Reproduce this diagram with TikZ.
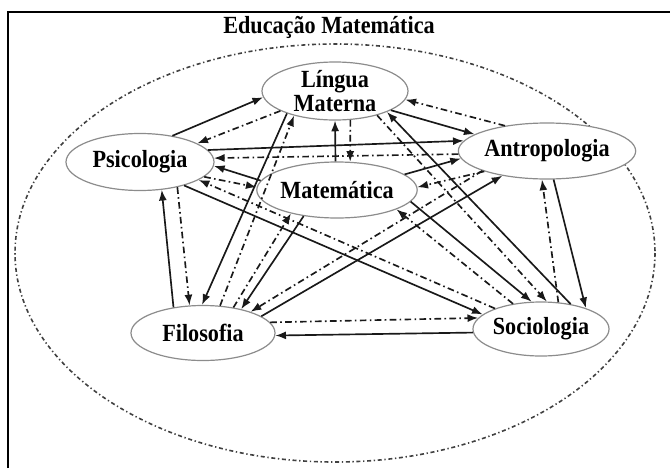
\documentclass[tikz,border=0pt]{standalone}
\usepackage{fontspec}
\setmainfont{Liberation Serif}[FakeStretch=0.9]
\usetikzlibrary{shapes.geometric,arrows.meta}
\begin{document}
\begin{tikzpicture}[x=0.75pt,y=-0.75pt,
  every node/.style={font=\bfseries\fontsize{18.5}{17.5}\selectfont},
  area/.style={ellipse,draw=black!45,line width=0.9pt,inner sep=0pt,align=center,fill=white},
  sol/.style={line width=1.25pt,draw=black!90,-{Latex[length=8pt,width=6pt]}},
  dd/.style={line width=1.25pt,draw=black!90,dash pattern=on 5pt off 2.5pt on 1.2pt off 2.5pt,-{Latex[length=8pt,width=6pt]}},
  bigring/.style={line width=1.2pt,draw=black!75,dash pattern=on 3pt off 2pt on 1pt off 2pt}]
\useasboundingbox (0,0) rectangle (670,468);
\draw[line width=1.6pt] (8,468) -- (8,12) -- (670,12);
\node (title) at (329,27) {Educação Matemática};
\draw[bigring] (335,253) ellipse [x radius=320, y radius=209];

\node[area,minimum width=109.5pt,minimum height=43.5pt] (L) at (335,91) {Língua\\Materna};
\node[area,minimum width=111pt,minimum height=42.75pt] (P) at (140,162) {Psicologia};
\node[area,minimum width=105pt,minimum height=42pt] (M) at (337,190) {Matemática};
\node[area,minimum width=105pt,minimum height=42pt] (A) at (547,151) {Antropologia};
\node[area,minimum width=108pt,minimum height=41.25pt] (F) at (203,333) {Filosofia};
\node[area,minimum width=100.5pt,minimum height=40.5pt] (S) at (541,329) {Sociologia};

% P - L
\draw[sol] (P.39) -- (L.185);
\draw[dd] (L.200) -- (P.18);
% L - A
\draw[sol] (L.-19) -- (A.167);
\draw[dd] (A.149) -- (L.-7);
% M - L
\draw[sol] (M.93) -- (L.-90);
\draw[dd] (L.-62) -- (M.65);
% P - A
\draw[sol] (P.10) -- (A.173);
\draw[dd] (A.182) -- (P.3);
% M - P
\draw[sol] (M.173) -- (P.-3);
\draw[dd] (P.-13) -- (M.178);
% F - P
\draw[sol] (F.139) -- (P.-52);
\draw[dd] (P.-34) -- (F.116);
% P - S
\draw[sol] (P.-28) -- (S.166);
\draw[dd] (S.156) -- (P.-17);
% S - F
\draw[dd] (F.9) -- (S.170);
\draw[sol] (S.183) -- (F.-2);
% A - S
\draw[sol] (A.-77) -- (S.25);
\draw[dd] (S.57) -- (A.-100);
% S - L
\draw[sol] (S.40) -- (L.-22);
\draw[dd] (L.-30) -- (S.78);
% M - S
\draw[sol] (M.-9) -- (S.109);
\draw[dd] (S.138) -- (M.-18);
% F - A
\draw[sol] (F.16) -- (A.209);
\draw[dd] (A.197) -- (F.24);
% M - A
\draw[sol] (M.13) -- (A.185);
\draw[dd] (A.198) -- (M.2);
% L - F
\draw[sol] (L.205) -- (F.92);
\draw[dd] (F.58) -- (L.211);
% M - F
\draw[sol] (M.218) -- (F.32);
\draw[dd] (F.40) -- (M.207);
\end{tikzpicture}
\end{document}
